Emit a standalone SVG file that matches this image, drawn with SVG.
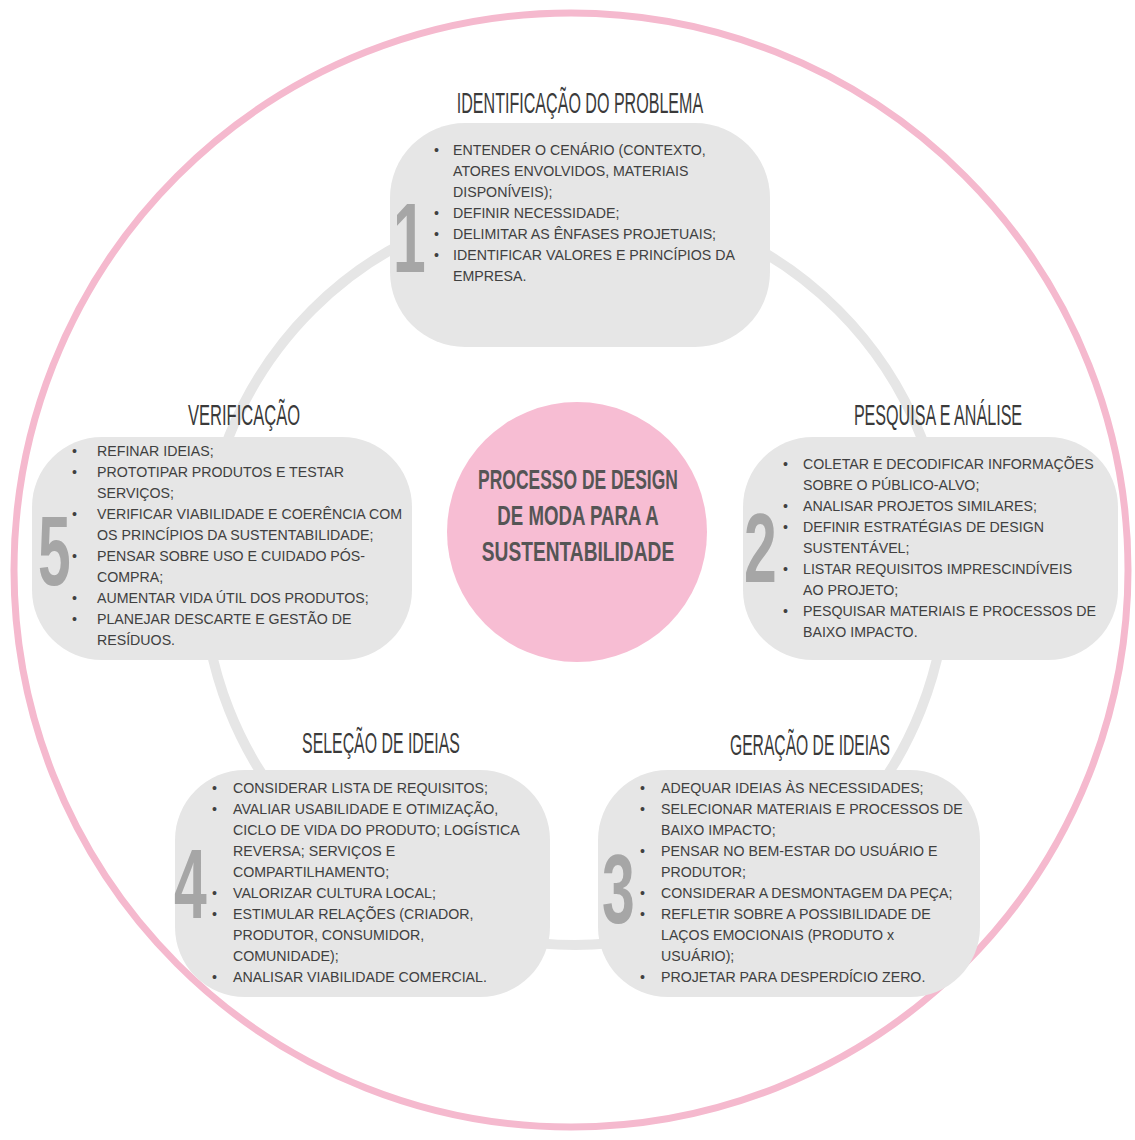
<svg xmlns="http://www.w3.org/2000/svg" width="1135" height="1140" viewBox="0 0 1135 1140">
<style>
.box{fill:#e6e6e6}
.ttl{font-family:"Liberation Sans",Arial,sans-serif;font-size:30px;fill:#3a3a3a;text-anchor:middle}
.txt{font-family:"Liberation Sans",Arial,sans-serif;font-size:14.2px;fill:#404040}
.num{font-family:"Liberation Sans",Arial,sans-serif;font-weight:bold;font-size:98px;fill:#a6a6a6}
.ctr{font-family:"Liberation Sans",Arial,sans-serif;font-weight:bold;font-size:27px;fill:#555555;text-anchor:middle}
</style>
<rect width="1135" height="1140" fill="#ffffff"/>
<circle cx="571" cy="570" r="557" fill="none" stroke="#f5b9ce" stroke-width="7"/>
<g id="connectors">
<circle cx="575" cy="573" r="372" fill="none" stroke="#e6e6e6" stroke-width="10"/>
</g>
<g id="center">
<circle cx="577" cy="532" r="130" fill="#f7bdd3"/>
<text class="ctr" transform="translate(578,489) scale(0.647,1)">PROCESSO DE DESIGN</text>
<text class="ctr" transform="translate(578,525) scale(0.692,1)">DE MODA PARA A</text>
<text class="ctr" transform="translate(578,561) scale(0.71,1)">SUSTENTABILIDADE</text>
</g>
<g id="step1">
<text class="ttl" transform="translate(580,113) scale(0.536,1)">IDENTIFICAÇÃO DO PROBLEMA</text>
<rect class="box" x="390" y="123" width="380" height="224" rx="75"/>
<text class="num" transform="translate(393,272) scale(0.6,1)">1</text>
<text class="txt">
<tspan x="434" y="155">•</tspan><tspan x="453" y="155">ENTENDER O CENÁRIO (CONTEXTO,</tspan>
<tspan x="453" y="176">ATORES ENVOLVIDOS, MATERIAIS</tspan>
<tspan x="453" y="197">DISPONÍVEIS);</tspan>
<tspan x="434" y="218">•</tspan><tspan x="453" y="218">DEFINIR NECESSIDADE;</tspan>
<tspan x="434" y="239">•</tspan><tspan x="453" y="239">DELIMITAR AS ÊNFASES PROJETUAIS;</tspan>
<tspan x="434" y="260">•</tspan><tspan x="453" y="260">IDENTIFICAR VALORES E PRINCÍPIOS DA</tspan>
<tspan x="453" y="281">EMPRESA.</tspan>
</text>
</g>
<g id="step2">
<text class="ttl" transform="translate(938,425) scale(0.537,1)">PESQUISA E ANÁLISE</text>
<rect class="box" x="743" y="437" width="375" height="223" rx="70"/>
<text class="num" transform="translate(744,582) scale(0.6,1)">2</text>
<text class="txt">
<tspan x="783" y="469">•</tspan><tspan x="803" y="469">COLETAR E DECODIFICAR INFORMAÇÕES</tspan>
<tspan x="803" y="490">SOBRE O PÚBLICO-ALVO;</tspan>
<tspan x="783" y="511">•</tspan><tspan x="803" y="511">ANALISAR PROJETOS SIMILARES;</tspan>
<tspan x="783" y="532">•</tspan><tspan x="803" y="532">DEFINIR ESTRATÉGIAS DE DESIGN</tspan>
<tspan x="803" y="553">SUSTENTÁVEL;</tspan>
<tspan x="783" y="574">•</tspan><tspan x="803" y="574">LISTAR REQUISITOS IMPRESCINDÍVEIS</tspan>
<tspan x="803" y="595">AO PROJETO;</tspan>
<tspan x="783" y="616">•</tspan><tspan x="803" y="616">PESQUISAR MATERIAIS E PROCESSOS DE</tspan>
<tspan x="803" y="637">BAIXO IMPACTO.</tspan>
</text>
</g>
<g id="step3">
<text class="ttl" transform="translate(810,755) scale(0.522,1)">GERAÇÃO DE IDEIAS</text>
<rect class="box" x="598" y="770" width="382" height="227" rx="70"/>
<text class="num" transform="translate(602,923) scale(0.6,1)">3</text>
<text class="txt">
<tspan x="640" y="793">•</tspan><tspan x="661" y="793">ADEQUAR IDEIAS ÀS NECESSIDADES;</tspan>
<tspan x="640" y="814">•</tspan><tspan x="661" y="814">SELECIONAR MATERIAIS E PROCESSOS DE</tspan>
<tspan x="661" y="835">BAIXO IMPACTO;</tspan>
<tspan x="640" y="856">•</tspan><tspan x="661" y="856">PENSAR NO BEM-ESTAR DO USUÁRIO E</tspan>
<tspan x="661" y="877">PRODUTOR;</tspan>
<tspan x="640" y="898">•</tspan><tspan x="661" y="898">CONSIDERAR A DESMONTAGEM DA PEÇA;</tspan>
<tspan x="640" y="919">•</tspan><tspan x="661" y="919">REFLETIR SOBRE A POSSIBILIDADE DE</tspan>
<tspan x="661" y="940">LAÇOS EMOCIONAIS (PRODUTO x</tspan>
<tspan x="661" y="961">USUÁRIO);</tspan>
<tspan x="640" y="982">•</tspan><tspan x="661" y="982">PROJETAR PARA DESPERDÍCIO ZERO.</tspan>
</text>
</g>
<g id="step4">
<text class="ttl" transform="translate(381,753) scale(0.529,1)">SELEÇÃO DE IDEIAS</text>
<rect class="box" x="175" y="770" width="375" height="227" rx="70"/>
<text class="num" transform="translate(174,918) scale(0.6,1)">4</text>
<text class="txt">
<tspan x="212" y="793">•</tspan><tspan x="233" y="793">CONSIDERAR LISTA DE REQUISITOS;</tspan>
<tspan x="212" y="814">•</tspan><tspan x="233" y="814">AVALIAR USABILIDADE E OTIMIZAÇÃO,</tspan>
<tspan x="233" y="835">CICLO DE VIDA DO PRODUTO; LOGÍSTICA</tspan>
<tspan x="233" y="856">REVERSA; SERVIÇOS E</tspan>
<tspan x="233" y="877">COMPARTILHAMENTO;</tspan>
<tspan x="212" y="898">•</tspan><tspan x="233" y="898">VALORIZAR CULTURA LOCAL;</tspan>
<tspan x="212" y="919">•</tspan><tspan x="233" y="919">ESTIMULAR RELAÇÕES (CRIADOR,</tspan>
<tspan x="233" y="940">PRODUTOR, CONSUMIDOR,</tspan>
<tspan x="233" y="961">COMUNIDADE);</tspan>
<tspan x="212" y="982">•</tspan><tspan x="233" y="982">ANALISAR VIABILIDADE COMERCIAL.</tspan>
</text>
</g>
<g id="step5">
<text class="ttl" transform="translate(244,425) scale(0.551,1)">VERIFICAÇÃO</text>
<rect class="box" x="32" y="437" width="380" height="223" rx="70"/>
<text class="num" transform="translate(38,585) scale(0.6,1)">5</text>
<text class="txt">
<tspan x="72" y="456">•</tspan><tspan x="97" y="456">REFINAR IDEIAS;</tspan>
<tspan x="72" y="477">•</tspan><tspan x="97" y="477">PROTOTIPAR PRODUTOS E TESTAR</tspan>
<tspan x="97" y="498">SERVIÇOS;</tspan>
<tspan x="72" y="519">•</tspan><tspan x="97" y="519">VERIFICAR VIABILIDADE E COERÊNCIA COM</tspan>
<tspan x="97" y="540">OS PRINCÍPIOS DA SUSTENTABILIDADE;</tspan>
<tspan x="72" y="561">•</tspan><tspan x="97" y="561">PENSAR SOBRE USO E CUIDADO PÓS-</tspan>
<tspan x="97" y="582">COMPRA;</tspan>
<tspan x="72" y="603">•</tspan><tspan x="97" y="603">AUMENTAR VIDA ÚTIL DOS PRODUTOS;</tspan>
<tspan x="72" y="624">•</tspan><tspan x="97" y="624">PLANEJAR DESCARTE E GESTÃO DE</tspan>
<tspan x="97" y="645">RESÍDUOS.</tspan>
</text>
</g>
</svg>
